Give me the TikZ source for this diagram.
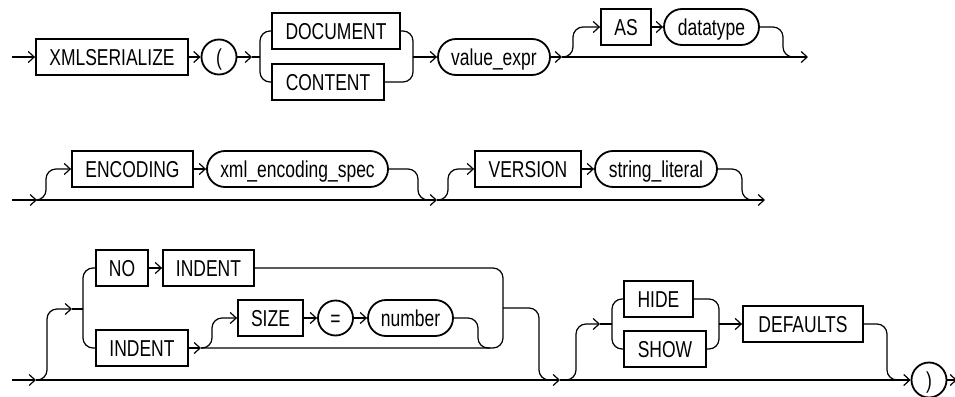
\documentclass[tikz,border=0pt]{standalone}
\usepackage{fontspec}
\setmainfont{Liberation Sans}[FakeStretch=0.76]
\usetikzlibrary{arrows.meta}
\begin{document}
\begin{tikzpicture}[x=1pt,y=-1pt,
  line width=1.2pt,
  >={Straight Barb[length=6pt,width=11pt]},
  every node/.style={font=\fontsize{23}{27}\selectfont},
  kw/.style={draw, line width=1.8pt, minimum height=36pt, inner sep=0pt, text height=16.5pt, text depth=0pt},
  nt/.style={kw, rounded corners=18pt},
  tk/.style={draw, circle, line width=1.8pt, minimum size=35pt, inner sep=0pt, text height=16.5pt, text depth=0pt},
  rc/.style={rounded corners=10pt}]
\useasboundingbox (0,0) rectangle (955,396);
% row 1
\node[kw, minimum width=152pt] (xml) at (112,57) {XMLSERIALIZE};
\node[tk] (lp) at (219,57) {(};
\node[kw, minimum width=128pt] (doc) at (336,31) {DOCUMENT};
\node[kw, minimum width=112pt] (cont) at (328,82) {CONTENT};
\node[nt, minimum width=112pt] (val) at (494,57) {value\_expr};
\node[kw, minimum width=50pt] (as) at (626,27) {AS};
\node[nt, minimum width=95pt] (dt) at (711.5,27) {datatype};
% row 2
\node[kw, minimum width=121pt] (enc) at (132.5,169) {ENCODING};
\node[nt, minimum width=181pt] (xes) at (297.5,169) {xml\_encoding\_spec};
\node[kw, minimum width=106pt] (ver) at (528,169) {VERSION};
\node[nt, minimum width=122pt] (sl) at (656,169) {string\_literal};
% row 3
\node[kw, minimum width=52pt] (no) at (122,268) {NO};
\node[kw, minimum width=91pt] (ind1) at (208.5,268) {INDENT};
\node[kw, minimum width=92pt] (ind2) at (142,348) {INDENT};
\node[kw, minimum width=65pt] (size) at (270.5,318) {SIZE};
\node[tk] (eq) at (335.5,318) {=};
\node[nt, minimum width=85pt] (num) at (410.5,318) {number};
\node[kw, minimum width=69pt] (hide) at (658.5,299) {HIDE};
\node[kw, minimum width=82pt] (show) at (665,349) {SHOW};
\node[kw, minimum width=120pt] (def) at (803,324) {DEFAULTS};
\node[tk] (rp) at (929,380) {)};
% coordinates
\coordinate (s1) at (12,57);
\coordinate (j1) at (252,57);
\coordinate (b1) at (260,57);
\coordinate (b2) at (413,57);
\coordinate (j2) at (562,57);
\coordinate (v1) at (573,57);
\coordinate (v2) at (783,57);
\coordinate (e1) at (808,57);
\coordinate (s2) at (12,200);
\coordinate (j3) at (37,200);
\coordinate (v3) at (46,200);
\coordinate (v4) at (418,200);
\coordinate (j4) at (437,200);
\coordinate (v5) at (448,200);
\coordinate (v6) at (742,200);
\coordinate (e2) at (765,200);
\coordinate (s3) at (12,380);
\coordinate (j5) at (36,380);
\coordinate (v7) at (47,380);
\coordinate (j6) at (72,309);
\coordinate (b3) at (83,309);
\coordinate (j7) at (201,348);
\coordinate (v8) at (212,348);
\coordinate (v9) at (478,348);
\coordinate (b4) at (503,308);
\coordinate (v10) at (539,380);
\coordinate (j8) at (560,380);
\coordinate (v11) at (576,380);
\coordinate (j9) at (600,324);
\coordinate (b5) at (612,324);
\coordinate (b6) at (719,324);
\coordinate (v12) at (887,380);
\coordinate (e3) at (957,380);
% row 1 connectors
\draw[->] (s1) -- (xml);
\draw[->] (xml) -- (lp);
\draw[->] (lp) -- (j1);
\draw (j1) -- (b1);
\draw[rc] (doc.west) -- (doc.west -| b1) -- (cont.west -| b1) -- (cont.west);
\draw[rc] (doc.east) -- (doc.east -| b2) -- (cont.east -| b2) -- (cont.east);
\draw[->] (b2) -- (val);
\draw[->] (val) -- (j2);
\draw[->, rc] (j2) -- (v1) -- (v1 |- as.west) -- (as.west);
\draw[->] (as) -- (dt);
\draw[rc] (dt.east) -- (dt.east -| v2) -- (v2) -- ++(12,0);
\draw[->] (j2) -- (e1);
% row 2 connectors
\draw[->] (s2) -- (j3);
\draw[->, rc] (j3) -- (v3) -- (v3 |- enc.west) -- (enc.west);
\draw[->] (enc) -- (xes);
\draw[rc] (xes.east) -- (xes.east -| v4) -- (v4) -- ++(12,0);
\draw[->] (j3) -- (j4);
\draw[->, rc] (j4) -- (v5) -- (v5 |- ver.west) -- (ver.west);
\draw[->] (ver) -- (sl);
\draw[rc] (sl.east) -- (sl.east -| v6) -- (v6) -- ++(12,0);
\draw[->] (j4) -- (e2);
% row 3 connectors
\draw[->] (s3) -- (j5);
\draw[->, rc] (j5) -- (v7) -- (v7 |- j6) -- (j6);
\draw (j6) -- (b3);
\draw[rc] (no.west) -- (no.west -| b3) -- (ind2.west -| b3) -- (ind2.west);
\draw[->] (no) -- (ind1);
\draw[->] (ind2) -- (j7);
\draw[->, rc] (j7) -- (v8) -- (v8 |- size.west) -- (size.west);
\draw[->] (size) -- (eq);
\draw[->] (eq) -- (num);
\draw[rc] (num.east) -- (num.east -| v9) -- (v9) -- ++(12,0);
\draw[rc] (ind1.east) -- (ind1.east -| b4) -- (b4 |- ind2.east) -- (j7);
\draw[rc] (b4) -- (b4 -| v10) -- (v10) -- ++(12,0);
\draw[->] (j5) -- (j8);
\draw[->, rc] (j8) -- (v11) -- (v11 |- j9) -- (j9);
\draw (j9) -- (b5);
\draw[rc] (hide.west) -- (hide.west -| b5) -- (show.west -| b5) -- (show.west);
\draw[rc] (hide.east) -- (hide.east -| b6) -- (show.east -| b6) -- (show.east);
\draw[->] (b6) -- (def);
\draw[rc] (def.east) -- (def.east -| v12) -- (v12) -- ++(12,0);
\draw[->] (j8) -- (rp);
\draw[->] (rp) -- (e3);
\end{tikzpicture}
\end{document}
